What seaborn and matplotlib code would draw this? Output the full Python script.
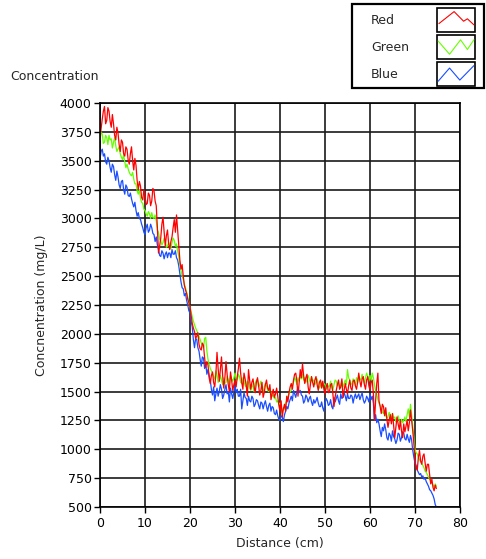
import numpy as np
import pandas as pd
import matplotlib
matplotlib.use('Agg')
import matplotlib.pyplot as plt
import seaborn as sns
from matplotlib.legend_handler import HandlerBase
from matplotlib.patches import Rectangle
from matplotlib.lines import Line2D

# ======================
# DATA (one sample every 0.25 cm)
# ======================
distance = np.arange(0, 75, 0.25)

red = [
    3700, 3780, 3860, 3930, 3970, 3820, 3850, 3960, 3930, 3840,
    3790, 3900, 3820, 3720, 3680, 3790, 3740, 3640, 3580, 3680,
    3660, 3560, 3540, 3620, 3600, 3510, 3470, 3560, 3620, 3500,
    3420, 3520, 3460, 3330, 3250, 3320, 3280, 3180, 3160, 3250,
    3190, 3120, 3130, 3220, 3200, 3110, 3150, 3260, 3240, 3150,
    3110, 2920, 2700, 2760, 2830, 2950, 3010, 2880, 2760, 2850,
    2900, 2780, 2730, 2800, 2840, 2920, 2990, 2880, 3030, 2900,
    2760, 2640, 2560, 2600, 2500, 2420, 2380, 2350, 2300, 2270,
    2240, 2160, 2090, 2050, 2020, 1960, 1980, 2010, 1910, 1870,
    1860, 1920, 1900, 1790, 1710, 1760, 1730, 1620, 1570, 1640,
    1670, 1580, 1540, 1650, 1840, 1700, 1590, 1690, 1800, 1640,
    1530, 1620, 1760, 1650, 1560, 1500, 1670, 1600, 1510, 1560,
    1600, 1540, 1630, 1700, 1790, 1660, 1580, 1520, 1660, 1610,
    1550, 1460, 1690, 1600, 1520, 1580, 1610, 1540, 1490, 1580,
    1620, 1550, 1470, 1510, 1580, 1450, 1490, 1560, 1600, 1530,
    1510, 1560, 1430, 1480, 1520, 1450, 1480, 1530, 1460, 1380,
    1330, 1420, 1280, 1350, 1390, 1330, 1460, 1410, 1490, 1540,
    1570, 1520, 1600, 1650, 1660, 1590, 1460, 1580, 1690, 1620,
    1740, 1640, 1570, 1620, 1650, 1540, 1480, 1560, 1630, 1580,
    1540, 1600, 1630, 1560, 1510, 1580, 1600, 1530, 1590, 1520,
    1480, 1540, 1570, 1490, 1500, 1560, 1570, 1480, 1370, 1450,
    1510, 1560, 1600, 1520, 1540, 1610, 1450, 1510, 1570, 1520,
    1480, 1550, 1600, 1530, 1510, 1590, 1600, 1550, 1520, 1580,
    1660, 1590, 1540, 1610, 1630, 1560, 1520, 1600, 1630, 1550,
    1510, 1580, 1600, 1480, 1250, 1420, 1570, 1660, 1420, 1370,
    1310, 1390, 1370, 1290, 1360, 1260, 1190, 1250, 1300, 1220,
    1310, 1200, 1100, 1190, 1280, 1220, 1170, 1250, 1160, 1100,
    1220, 1150, 1200, 1250, 1160, 1230, 1340, 1250, 1160, 1050,
    900, 840, 820, 930, 990, 900, 870, 940, 960, 880,
    810, 870, 870, 780, 700, 740, 670, 640, 690, 660,
]

green = [
    3680, 3750, 3730, 3650, 3660, 3720, 3700, 3640, 3720, 3680,
    3690, 3610, 3660, 3700, 3630, 3580, 3600, 3620, 3560, 3530,
    3510, 3550, 3490, 3440, 3470, 3430, 3400, 3380, 3370, 3400,
    3340, 3300, 3300, 3240, 3210, 3250, 3170, 3140, 3130, 3080,
    3070, 3040, 3020, 3060, 3040, 3000, 3050, 3010, 3000, 3030,
    2980, 2900, 2880, 2820, 2810, 2770, 2790, 2830, 2800, 2750,
    2760, 2790, 2780, 2740, 2790, 2830, 2810, 2760, 2780, 2720,
    2670, 2600, 2550, 2500, 2470, 2430, 2400, 2360, 2320, 2270,
    2230, 2190, 2150, 2110, 2080, 2050, 2030, 2000, 1980, 1950,
    1920, 1900, 1880, 1960, 1970, 1850, 1780, 1740, 1700, 1680,
    1660, 1630, 1610, 1680, 1650, 1580, 1590, 1640, 1600, 1560,
    1620, 1570, 1580, 1630, 1600, 1560, 1640, 1610, 1590, 1620,
    1660, 1610, 1600, 1650, 1630, 1580, 1570, 1620, 1590, 1550,
    1540, 1590, 1580, 1530, 1510, 1560, 1540, 1500, 1570, 1600,
    1600, 1540, 1560, 1590, 1520, 1490, 1540, 1570, 1550, 1510,
    1500, 1530, 1490, 1460, 1470, 1440, 1450, 1410, 1420, 1390,
    1400, 1350, 1320, 1360, 1350, 1400, 1420, 1460, 1480, 1500,
    1510, 1550, 1580, 1620, 1600, 1560, 1620, 1590, 1640, 1610,
    1650, 1600, 1620, 1580, 1600, 1640, 1610, 1570, 1630, 1590,
    1600, 1560, 1580, 1610, 1560, 1530, 1550, 1580, 1540, 1570,
    1560, 1520, 1570, 1540, 1550, 1590, 1540, 1510, 1560, 1600,
    1590, 1550, 1570, 1540, 1550, 1590, 1540, 1570, 1600, 1560,
    1690, 1620, 1600, 1560, 1570, 1610, 1590, 1550, 1620, 1580,
    1630, 1600, 1610, 1650, 1600, 1570, 1620, 1660, 1630, 1590,
    1640, 1600, 1660, 1620, 1560, 1500, 1480, 1430, 1400, 1380,
    1360, 1320, 1310, 1340, 1290, 1270, 1280, 1320, 1300, 1260,
    1310, 1270, 1280, 1240, 1260, 1290, 1250, 1220, 1260, 1230,
    1250, 1280, 1240, 1300, 1350, 1280, 1390, 1300, 1200, 1100,
    1000, 970, 960, 930, 910, 890, 880, 860, 840, 810,
    800, 780, 760, 740, 730, 710, 690, 670, 700, 680,
]

blue = [
    3520, 3580, 3600, 3540, 3560, 3490, 3470, 3530, 3500, 3440,
    3400, 3470, 3450, 3380, 3330, 3410, 3360, 3290, 3260, 3320,
    3330, 3250, 3210, 3290, 3270, 3200, 3190, 3220, 3170, 3130,
    3100, 3140, 3070, 3020, 3050, 3000, 2990, 2950, 2920, 2880,
    2860, 2920, 2950, 2880, 2900, 2950, 2920, 2870, 2860, 2800,
    2840, 2770, 2730, 2680, 2670, 2720, 2700, 2650, 2690, 2710,
    2660, 2700, 2700, 2660, 2730, 2690, 2690, 2720, 2660, 2640,
    2590, 2520, 2450, 2400, 2390, 2330, 2350, 2290, 2250, 2200,
    2180, 2110, 2060, 1950, 1880, 1960, 1950, 1880, 1850, 1780,
    1720, 1800, 1790, 1700, 1740, 1650, 1690, 1640, 1600, 1520,
    1470, 1540, 1420, 1480, 1530, 1460, 1500, 1560, 1520, 1440,
    1470, 1520, 1560, 1480, 1500, 1410, 1530, 1480, 1440, 1500,
    1550, 1490, 1520, 1460, 1460, 1520, 1350, 1420, 1490, 1450,
    1440, 1380, 1460, 1420, 1410, 1460, 1440, 1370, 1390, 1430,
    1420, 1380, 1350, 1410, 1400, 1350, 1390, 1420, 1370, 1330,
    1380, 1400, 1330, 1370, 1360, 1310, 1300, 1340, 1290, 1260,
    1250, 1290, 1280, 1240, 1300, 1330, 1370, 1350, 1400, 1430,
    1460, 1420, 1510, 1480, 1450, 1500, 1540, 1490, 1510, 1470,
    1460, 1400, 1420, 1470, 1450, 1410, 1440, 1460, 1410, 1380,
    1430, 1400, 1420, 1450, 1400, 1370, 1370, 1410, 1360, 1330,
    1400, 1440, 1420, 1380, 1390, 1430, 1370, 1350, 1450, 1410,
    1440, 1470, 1420, 1390, 1480, 1440, 1450, 1490, 1460, 1420,
    1480, 1440, 1440, 1470, 1460, 1400, 1450, 1480, 1440, 1460,
    1480, 1430, 1460, 1490, 1430, 1400, 1420, 1460, 1440, 1410,
    1480, 1430, 1460, 1400, 1250, 1300, 1230, 1260, 1220, 1160,
    1110, 1190, 1160, 1220, 1170, 1100, 1080, 1140, 1120, 1070,
    1160, 1110, 1090, 1050, 1080, 1140, 1130, 1070, 1100, 1150,
    1140, 1090, 1080, 1130, 1090, 1060, 1120, 1080, 990, 930,
    880, 860, 820, 800, 780, 790, 760, 770, 740, 750,
    720, 700, 680, 650, 640, 620, 600, 570, 520, 500,
]

series_names = ['Red', 'Green', 'Blue']
x_ticks = list(range(0, 81, 10))
y_ticks = list(range(500, 4001, 250))

colors = {'Red': '#ff0000', 'Green': '#66ff00', 'Blue': '#1a4dff'}

# little zigzag glyphs drawn inside the legend boxes (fractions of the box)
glyphs = {
    'Red': [(0.05, 0.35), (0.45, 0.85), (0.7, 0.45), (0.8, 0.55), (0.97, 0.3)],
    'Green': [(0.03, 0.75), (0.33, 0.2), (0.62, 0.8), (0.8, 0.4), (0.97, 0.8)],
    'Blue': [(0.03, 0.2), (0.33, 0.75), (0.6, 0.25), (0.97, 0.85)],
}


class BoxZigzag(HandlerBase):
    def __init__(self, pts):
        super().__init__()
        self.pts = pts

    def create_artists(self, legend, orig_handle, xdescent, ydescent,
                       width, height, fontsize, trans):
        x0, y0 = -xdescent, -ydescent
        box = Rectangle((x0, y0), width, height, fill=False, ec='black',
                        lw=1.2, transform=trans)
        xs = [x0 + width * px for px, py in self.pts]
        ys = [y0 + height * py for px, py in self.pts]
        line = Line2D(xs, ys, color=orig_handle.get_color(), lw=0.8,
                      transform=trans)
        return [box, line]


# ======================
# PLOT
# ======================
sns.set_style('ticks')
plt.rcParams['font.family'] = ['DejaVu Sans']

W, H = 486, 559
fig = plt.figure(figsize=(W / 100, H / 100), dpi=100)
ax = fig.add_axes([100 / W, 1 - 507 / H, 360 / W, 404 / H])

df = pd.DataFrame({'Distance': distance, 'Red': red, 'Green': green, 'Blue': blue})

handles = {}
# blue drawn first, red on top
for name in ['Blue', 'Green', 'Red']:
    sns.lineplot(data=df, x='Distance', y=name, color=colors[name], lw=0.9,
                 ax=ax, legend=False)
    handles[name] = ax.lines[-1]

ax.set_xlim(0, 80)
ax.set_ylim(500, 4000)
ax.set_xticks(x_ticks)
ax.set_yticks(y_ticks)
ax.grid(True, color='#1a1a1a', lw=1.2)
for sp in ax.spines.values():
    sp.set_color('black')
    sp.set_linewidth(1.2)
ax.tick_params(axis='both', direction='out', length=4, width=1, colors='black',
               labelsize=9)
ax.tick_params(axis='y', pad=2)
ax.tick_params(axis='x', pad=3)

ax.set_xlabel('Distance (cm)', fontsize=9)
ax.set_ylabel('Concnentration (mg/L)', fontsize=9)
ax.xaxis.set_label_coords(0.5, -0.075)
ax.yaxis.set_label_coords(-0.145, 0.5)

fig.text(10 / W, 1 - 77 / H, 'Concentration', fontsize=9, ha='left', va='center')

# legend: frame drawn separately so the entries can sit where they do in the original
leg = ax.legend([handles[n] for n in series_names], series_names,
                handler_map={handles[n]: BoxZigzag(glyphs[n]) for n in series_names},
                loc='upper left', bbox_to_anchor=(371 / W, 1 - 8 / H),
                bbox_transform=fig.transFigure, frameon=False, markerfirst=False,
                handlelength=3.04, handleheight=2.58, labelspacing=0.24,
                handletextpad=2.2, borderpad=0, borderaxespad=0, fontsize=9)

# left-align the labels while keeping the boxes in one column
fig.canvas.draw()
renderer = fig.canvas.get_renderer()
text_w = [t.get_window_extent(renderer).width * 72 / fig.dpi for t in leg.get_texts()]
column = leg._legend_handle_box.get_children()[0]
column.align = 'left'
for row, w in zip(column.get_children(), text_w):
    row.sep = (437 - 371) * 72 / fig.dpi - w

fig.add_artist(Rectangle((352 / W, 1 - 88 / H), 132 / W, 84 / H,
                         transform=fig.transFigure, fill=False, ec='black', lw=1.6))

fig.savefig('out.png', dpi=100, facecolor='white')
